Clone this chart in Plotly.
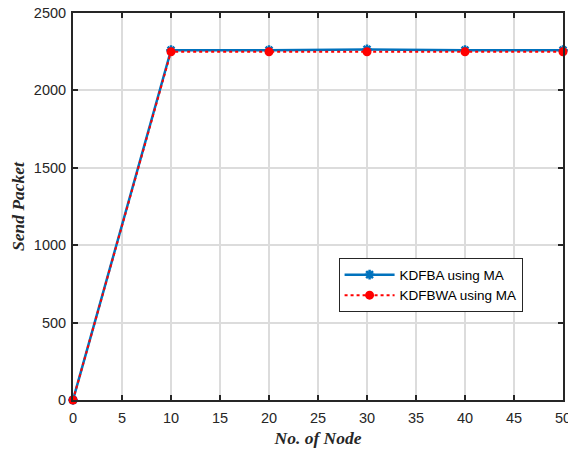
import plotly.graph_objects as go

nodes = [0, 10, 20, 30, 40, 50]
kdfba = [0, 2260, 2260, 2265, 2260, 2260]
kdfbwa = [0, 2250, 2250, 2250, 2250, 2250]

fig = go.Figure()
fig.add_trace(go.Scatter(
    x=nodes, y=kdfba, name="KDFBA using MA", mode="lines+markers",
    line=dict(color="#0072BD", width=2.5),
    marker=dict(symbol="asterisk-open", size=8, color="#0072BD",
                line=dict(color="#0072BD", width=2.5)),
    cliponaxis=False))
fig.add_trace(go.Scatter(
    x=nodes, y=kdfbwa, name="KDFBWA using MA", mode="lines+markers",
    line=dict(color="#FF0000", width=2, dash="dot"),
    marker=dict(symbol="circle", size=9, color="#FF0000"),
    cliponaxis=False))

axis_common = dict(
    showline=True, linecolor="#262626", linewidth=2, mirror="ticks",
    ticks="inside", ticklen=5, tickwidth=1.5, tickcolor="#262626",
    showgrid=True, gridcolor="#DCDCDC", gridwidth=1.5, zeroline=False,
    ticklabeloverflow="allow", automargin=False,
    tickfont=dict(family="Liberation Sans, Arial", size=14.5, color="#262626"),
)
fig.update_xaxes(range=[0, 50], dtick=5, tick0=0, ticklabelstandoff=4,
                 title=dict(text="<b><i>No. of Node</i></b>", standoff=6,
                            font=dict(family="Liberation Serif, Times New Roman", size=17.5, color="#262626")),
                 **axis_common)
fig.update_yaxes(range=[0, 2500], dtick=500, tick0=0, ticklabelstandoff=2,
                 title=dict(text="<b><i>Send Packet</i></b>", standoff=5,
                            font=dict(family="Liberation Serif, Times New Roman", size=17.5, color="#262626")),
                 **axis_common)
fig.update_layout(
    width=568, height=450,
    margin=dict(l=73, r=5, t=13, b=50),
    plot_bgcolor="white", paper_bgcolor="white",
    legend=dict(x=0.542, y=0.366, xanchor="left", yanchor="top",
                bgcolor="white", bordercolor="#262626", borderwidth=1,
                font=dict(family="Liberation Sans, Arial", size=13.5, color="#000000"),
                itemwidth=50, tracegroupgap=0),
    showlegend=True,
)
fig.write_html("out.html")
